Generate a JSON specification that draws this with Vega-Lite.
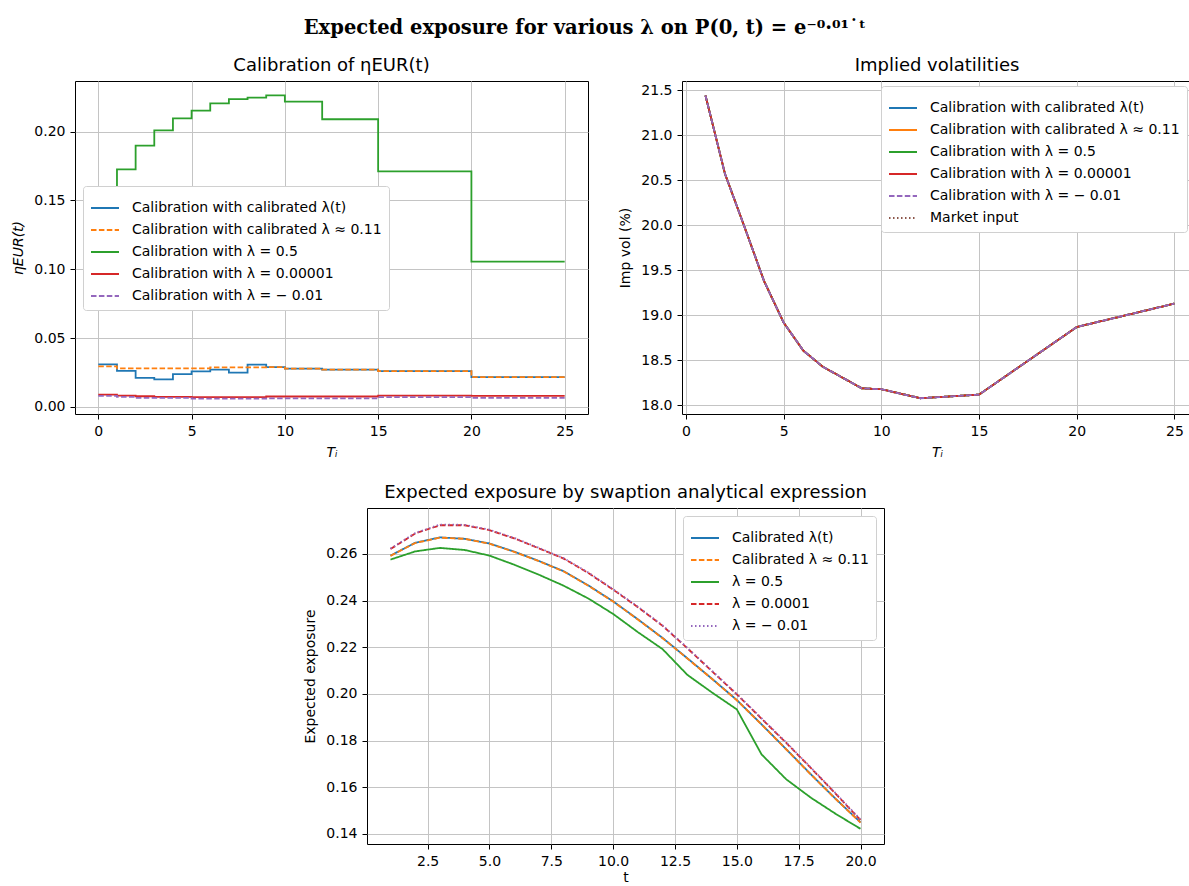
{
  "$schema": "https://vega.github.io/schema/vega-lite/v6.json",
  "padding": {"left": 11, "top": 18, "right": 0, "bottom": 0},
  "title": {"text": "Expected exposure for various λ on P(0, t) = e⁻⁰·⁰¹˙ᵗ", "font": "DejaVu Serif", "fontSize": 19.5, "fontWeight": "bold", "color": "#000", "anchor": "middle", "offset": 18, "dx": -17},
  "config": {
    "font": "DejaVu Sans",
    "view": {"stroke": "#000", "strokeWidth": 1},
    "axis": {"domain": false, "tickColor": "#000", "tickSize": 5, "tickWidth": 1, "labelFont": "DejaVu Sans", "labelFontSize": 14, "labelColor": "#000", "labelPadding": 5, "titleFont": "DejaVu Sans", "titleFontSize": 14, "titleFontWeight": "normal", "titleColor": "#000", "titlePadding": 7, "gridColor": "#c4c4c4", "gridWidth": 1, "labelFlush": false, "labelOverlap": false},
    "axisY": {"titlePadding": 8},
    "legend": {"labelFont": "DejaVu Sans", "labelFontSize": 14, "labelColor": "#000", "symbolType": "stroke", "symbolSize": 784, "symbolStrokeWidth": 2, "rowPadding": -5, "labelOffset": 12, "labelLimit": 500, "strokeColor": "#d0d0d0", "fillColor": "#ffffff", "padding": 7, "cornerRadius": 3, "title": null},
    "title": {"font": "DejaVu Sans", "fontSize": 18, "fontWeight": "normal", "color": "#000"}
  },
  "datasets": {
    "eta": [
      {"T":0,"s":"Calibration with calibrated λ(t)","v":0.0310},{"T":1,"s":"Calibration with calibrated λ(t)","v":0.0263},{"T":2,"s":"Calibration with calibrated λ(t)","v":0.0212},{"T":3,"s":"Calibration with calibrated λ(t)","v":0.0200},{"T":4,"s":"Calibration with calibrated λ(t)","v":0.0239},{"T":5,"s":"Calibration with calibrated λ(t)","v":0.0259},{"T":6,"s":"Calibration with calibrated λ(t)","v":0.0271},{"T":7,"s":"Calibration with calibrated λ(t)","v":0.0249},{"T":8,"s":"Calibration with calibrated λ(t)","v":0.0307},{"T":9,"s":"Calibration with calibrated λ(t)","v":0.0290},{"T":10,"s":"Calibration with calibrated λ(t)","v":0.0278},{"T":12,"s":"Calibration with calibrated λ(t)","v":0.0271},{"T":15,"s":"Calibration with calibrated λ(t)","v":0.0261},{"T":20,"s":"Calibration with calibrated λ(t)","v":0.0217},{"T":25,"s":"Calibration with calibrated λ(t)","v":0.0217},
      {"T":0,"s":"Calibration with calibrated λ ≈ 0.11","v":0.0295},{"T":1,"s":"Calibration with calibrated λ ≈ 0.11","v":0.0281},{"T":2,"s":"Calibration with calibrated λ ≈ 0.11","v":0.0281},{"T":3,"s":"Calibration with calibrated λ ≈ 0.11","v":0.0281},{"T":4,"s":"Calibration with calibrated λ ≈ 0.11","v":0.0281},{"T":5,"s":"Calibration with calibrated λ ≈ 0.11","v":0.0281},{"T":6,"s":"Calibration with calibrated λ ≈ 0.11","v":0.0288},{"T":7,"s":"Calibration with calibrated λ ≈ 0.11","v":0.0288},{"T":8,"s":"Calibration with calibrated λ ≈ 0.11","v":0.0288},{"T":9,"s":"Calibration with calibrated λ ≈ 0.11","v":0.0290},{"T":10,"s":"Calibration with calibrated λ ≈ 0.11","v":0.0278},{"T":12,"s":"Calibration with calibrated λ ≈ 0.11","v":0.0271},{"T":15,"s":"Calibration with calibrated λ ≈ 0.11","v":0.0261},{"T":20,"s":"Calibration with calibrated λ ≈ 0.11","v":0.0217},{"T":25,"s":"Calibration with calibrated λ ≈ 0.11","v":0.0217},
      {"T":0,"s":"Calibration with λ = 0.5","v":0.1400},{"T":1,"s":"Calibration with λ = 0.5","v":0.1726},{"T":2,"s":"Calibration with λ = 0.5","v":0.1898},{"T":3,"s":"Calibration with λ = 0.5","v":0.2010},{"T":4,"s":"Calibration with λ = 0.5","v":0.2097},{"T":5,"s":"Calibration with λ = 0.5","v":0.2153},{"T":6,"s":"Calibration with λ = 0.5","v":0.2206},{"T":7,"s":"Calibration with λ = 0.5","v":0.2237},{"T":8,"s":"Calibration with λ = 0.5","v":0.2247},{"T":9,"s":"Calibration with λ = 0.5","v":0.2264},{"T":10,"s":"Calibration with λ = 0.5","v":0.2218},{"T":12,"s":"Calibration with λ = 0.5","v":0.2090},{"T":15,"s":"Calibration with λ = 0.5","v":0.1712},{"T":20,"s":"Calibration with λ = 0.5","v":0.1056},{"T":25,"s":"Calibration with λ = 0.5","v":0.1056},
      {"T":0,"s":"Calibration with λ = 0.00001","v":0.0090},{"T":1,"s":"Calibration with λ = 0.00001","v":0.0083},{"T":2,"s":"Calibration with λ = 0.00001","v":0.0078},{"T":3,"s":"Calibration with λ = 0.00001","v":0.0073},{"T":4,"s":"Calibration with λ = 0.00001","v":0.0073},{"T":5,"s":"Calibration with λ = 0.00001","v":0.0071},{"T":6,"s":"Calibration with λ = 0.00001","v":0.0071},{"T":7,"s":"Calibration with λ = 0.00001","v":0.0071},{"T":8,"s":"Calibration with λ = 0.00001","v":0.0071},{"T":9,"s":"Calibration with λ = 0.00001","v":0.0076},{"T":10,"s":"Calibration with λ = 0.00001","v":0.0076},{"T":12,"s":"Calibration with λ = 0.00001","v":0.0076},{"T":15,"s":"Calibration with λ = 0.00001","v":0.0083},{"T":20,"s":"Calibration with λ = 0.00001","v":0.0080},{"T":25,"s":"Calibration with λ = 0.00001","v":0.0080},
      {"T":0,"s":"Calibration with  λ = − 0.01","v":0.0080},{"T":1,"s":"Calibration with  λ = − 0.01","v":0.0073},{"T":2,"s":"Calibration with  λ = − 0.01","v":0.0066},{"T":3,"s":"Calibration with  λ = − 0.01","v":0.0066},{"T":4,"s":"Calibration with  λ = − 0.01","v":0.0066},{"T":5,"s":"Calibration with  λ = − 0.01","v":0.0061},{"T":6,"s":"Calibration with  λ = − 0.01","v":0.0061},{"T":7,"s":"Calibration with  λ = − 0.01","v":0.0061},{"T":8,"s":"Calibration with  λ = − 0.01","v":0.0061},{"T":9,"s":"Calibration with  λ = − 0.01","v":0.0063},{"T":10,"s":"Calibration with  λ = − 0.01","v":0.0062},{"T":12,"s":"Calibration with  λ = − 0.01","v":0.0062},{"T":15,"s":"Calibration with  λ = − 0.01","v":0.0071},{"T":20,"s":"Calibration with  λ = − 0.01","v":0.0066},{"T":25,"s":"Calibration with  λ = − 0.01","v":0.0066}
    ],
    "vol": [
      {"T":1,"s":"Market input","v":21.44},{"T":2,"s":"Market input","v":20.57},{"T":3,"s":"Market input","v":19.98},{"T":4,"s":"Market input","v":19.38},{"T":5,"s":"Market input","v":18.92},{"T":6,"s":"Market input","v":18.61},{"T":7,"s":"Market input","v":18.43},{"T":9,"s":"Market input","v":18.19},{"T":10,"s":"Market input","v":18.18},{"T":12,"s":"Market input","v":18.08},{"T":15,"s":"Market input","v":18.12},{"T":20,"s":"Market input","v":18.87},{"T":25,"s":"Market input","v":19.13},
      {"T":1,"s":"Calibration with calibrated λ(t)","v":21.44},{"T":2,"s":"Calibration with calibrated λ(t)","v":20.57},{"T":3,"s":"Calibration with calibrated λ(t)","v":19.98},{"T":4,"s":"Calibration with calibrated λ(t)","v":19.38},{"T":5,"s":"Calibration with calibrated λ(t)","v":18.92},{"T":6,"s":"Calibration with calibrated λ(t)","v":18.61},{"T":7,"s":"Calibration with calibrated λ(t)","v":18.43},{"T":9,"s":"Calibration with calibrated λ(t)","v":18.19},{"T":10,"s":"Calibration with calibrated λ(t)","v":18.18},{"T":12,"s":"Calibration with calibrated λ(t)","v":18.08},{"T":15,"s":"Calibration with calibrated λ(t)","v":18.12},{"T":20,"s":"Calibration with calibrated λ(t)","v":18.87},{"T":25,"s":"Calibration with calibrated λ(t)","v":19.13},
      {"T":1,"s":"Calibration with calibrated λ ≈ 0.11","v":21.44},{"T":2,"s":"Calibration with calibrated λ ≈ 0.11","v":20.57},{"T":3,"s":"Calibration with calibrated λ ≈ 0.11","v":19.98},{"T":4,"s":"Calibration with calibrated λ ≈ 0.11","v":19.38},{"T":5,"s":"Calibration with calibrated λ ≈ 0.11","v":18.92},{"T":6,"s":"Calibration with calibrated λ ≈ 0.11","v":18.61},{"T":7,"s":"Calibration with calibrated λ ≈ 0.11","v":18.43},{"T":9,"s":"Calibration with calibrated λ ≈ 0.11","v":18.19},{"T":10,"s":"Calibration with calibrated λ ≈ 0.11","v":18.18},{"T":12,"s":"Calibration with calibrated λ ≈ 0.11","v":18.08},{"T":15,"s":"Calibration with calibrated λ ≈ 0.11","v":18.12},{"T":20,"s":"Calibration with calibrated λ ≈ 0.11","v":18.87},{"T":25,"s":"Calibration with calibrated λ ≈ 0.11","v":19.13},
      {"T":1,"s":"Calibration with  λ = 0.5","v":21.44},{"T":2,"s":"Calibration with  λ = 0.5","v":20.57},{"T":3,"s":"Calibration with  λ = 0.5","v":19.98},{"T":4,"s":"Calibration with  λ = 0.5","v":19.38},{"T":5,"s":"Calibration with  λ = 0.5","v":18.92},{"T":6,"s":"Calibration with  λ = 0.5","v":18.61},{"T":7,"s":"Calibration with  λ = 0.5","v":18.43},{"T":9,"s":"Calibration with  λ = 0.5","v":18.19},{"T":10,"s":"Calibration with  λ = 0.5","v":18.18},{"T":12,"s":"Calibration with  λ = 0.5","v":18.08},{"T":15,"s":"Calibration with  λ = 0.5","v":18.12},{"T":20,"s":"Calibration with  λ = 0.5","v":18.87},{"T":25,"s":"Calibration with  λ = 0.5","v":19.13},
      {"T":1,"s":"Calibration with  λ = 0.00001","v":21.44},{"T":2,"s":"Calibration with  λ = 0.00001","v":20.57},{"T":3,"s":"Calibration with  λ = 0.00001","v":19.98},{"T":4,"s":"Calibration with  λ = 0.00001","v":19.38},{"T":5,"s":"Calibration with  λ = 0.00001","v":18.92},{"T":6,"s":"Calibration with  λ = 0.00001","v":18.61},{"T":7,"s":"Calibration with  λ = 0.00001","v":18.43},{"T":9,"s":"Calibration with  λ = 0.00001","v":18.19},{"T":10,"s":"Calibration with  λ = 0.00001","v":18.18},{"T":12,"s":"Calibration with  λ = 0.00001","v":18.08},{"T":15,"s":"Calibration with  λ = 0.00001","v":18.12},{"T":20,"s":"Calibration with  λ = 0.00001","v":18.87},{"T":25,"s":"Calibration with  λ = 0.00001","v":19.13},
      {"T":1,"s":"Calibration with λ =  − 0.01","v":21.44},{"T":2,"s":"Calibration with λ =  − 0.01","v":20.57},{"T":3,"s":"Calibration with λ =  − 0.01","v":19.98},{"T":4,"s":"Calibration with λ =  − 0.01","v":19.38},{"T":5,"s":"Calibration with λ =  − 0.01","v":18.92},{"T":6,"s":"Calibration with λ =  − 0.01","v":18.61},{"T":7,"s":"Calibration with λ =  − 0.01","v":18.43},{"T":9,"s":"Calibration with λ =  − 0.01","v":18.19},{"T":10,"s":"Calibration with λ =  − 0.01","v":18.18},{"T":12,"s":"Calibration with λ =  − 0.01","v":18.08},{"T":15,"s":"Calibration with λ =  − 0.01","v":18.12},{"T":20,"s":"Calibration with λ =  − 0.01","v":18.87},{"T":25,"s":"Calibration with λ =  − 0.01","v":19.13}
    ],
    "ee": [
      {"t":1,"s":"Calibrated λ(t)","v":0.2593},{"t":2,"s":"Calibrated λ(t)","v":0.2648},{"t":3,"s":"Calibrated λ(t)","v":0.2671},{"t":4,"s":"Calibrated λ(t)","v":0.2665},{"t":5,"s":"Calibrated λ(t)","v":0.2645},{"t":6,"s":"Calibrated λ(t)","v":0.2610},{"t":7,"s":"Calibrated λ(t)","v":0.2570},{"t":8,"s":"Calibrated λ(t)","v":0.2526},{"t":9,"s":"Calibrated λ(t)","v":0.2465},{"t":10,"s":"Calibrated λ(t)","v":0.2397},{"t":11,"s":"Calibrated λ(t)","v":0.2320},{"t":12,"s":"Calibrated λ(t)","v":0.2240},{"t":13,"s":"Calibrated λ(t)","v":0.2153},{"t":14,"s":"Calibrated λ(t)","v":0.2065},{"t":15,"s":"Calibrated λ(t)","v":0.1974},{"t":16,"s":"Calibrated λ(t)","v":0.1870},{"t":17,"s":"Calibrated λ(t)","v":0.1763},{"t":18,"s":"Calibrated λ(t)","v":0.1655},{"t":19,"s":"Calibrated λ(t)","v":0.1550},{"t":20,"s":"Calibrated λ(t)","v":0.1450},
      {"t":1,"s":"Calibrated λ ≈ 0.11","v":0.2592},{"t":2,"s":"Calibrated λ ≈ 0.11","v":0.2647},{"t":3,"s":"Calibrated λ ≈ 0.11","v":0.2670},{"t":4,"s":"Calibrated λ ≈ 0.11","v":0.2665},{"t":5,"s":"Calibrated λ ≈ 0.11","v":0.2644},{"t":6,"s":"Calibrated λ ≈ 0.11","v":0.2609},{"t":7,"s":"Calibrated λ ≈ 0.11","v":0.2569},{"t":8,"s":"Calibrated λ ≈ 0.11","v":0.2525},{"t":9,"s":"Calibrated λ ≈ 0.11","v":0.2464},{"t":10,"s":"Calibrated λ ≈ 0.11","v":0.2396},{"t":11,"s":"Calibrated λ ≈ 0.11","v":0.2319},{"t":12,"s":"Calibrated λ ≈ 0.11","v":0.2239},{"t":13,"s":"Calibrated λ ≈ 0.11","v":0.2152},{"t":14,"s":"Calibrated λ ≈ 0.11","v":0.2064},{"t":15,"s":"Calibrated λ ≈ 0.11","v":0.1973},{"t":16,"s":"Calibrated λ ≈ 0.11","v":0.1869},{"t":17,"s":"Calibrated λ ≈ 0.11","v":0.1762},{"t":18,"s":"Calibrated λ ≈ 0.11","v":0.1654},{"t":19,"s":"Calibrated λ ≈ 0.11","v":0.1549},{"t":20,"s":"Calibrated λ ≈ 0.11","v":0.1449},
      {"t":1,"s":"λ = 0.5","v":0.2576},{"t":2,"s":"λ = 0.5","v":0.2611},{"t":3,"s":"λ = 0.5","v":0.2626},{"t":4,"s":"λ = 0.5","v":0.2617},{"t":5,"s":"λ = 0.5","v":0.2593},{"t":6,"s":"λ = 0.5","v":0.2554},{"t":7,"s":"λ = 0.5","v":0.2511},{"t":8,"s":"λ = 0.5","v":0.2464},{"t":9,"s":"λ = 0.5","v":0.2409},{"t":10,"s":"λ = 0.5","v":0.2343},{"t":11,"s":"λ = 0.5","v":0.2265},{"t":12,"s":"λ = 0.5","v":0.2192},{"t":13,"s":"λ = 0.5","v":0.2082},{"t":14,"s":"λ = 0.5","v":0.2006},{"t":15,"s":"λ = 0.5","v":0.1934},{"t":16,"s":"λ = 0.5","v":0.1741},{"t":17,"s":"λ = 0.5","v":0.1634},{"t":18,"s":"λ = 0.5","v":0.1555},{"t":19,"s":"λ = 0.5","v":0.1486},{"t":20,"s":"λ = 0.5","v":0.1422},
      {"t":1,"s":"λ = 0.0001","v":0.2621},{"t":2,"s":"λ = 0.0001","v":0.2688},{"t":3,"s":"λ = 0.0001","v":0.2723},{"t":4,"s":"λ = 0.0001","v":0.2723},{"t":5,"s":"λ = 0.0001","v":0.2702},{"t":6,"s":"λ = 0.0001","v":0.2667},{"t":7,"s":"λ = 0.0001","v":0.2624},{"t":8,"s":"λ = 0.0001","v":0.2580},{"t":9,"s":"λ = 0.0001","v":0.2518},{"t":10,"s":"λ = 0.0001","v":0.2447},{"t":11,"s":"λ = 0.0001","v":0.2372},{"t":12,"s":"λ = 0.0001","v":0.2292},{"t":13,"s":"λ = 0.0001","v":0.2196},{"t":14,"s":"λ = 0.0001","v":0.2097},{"t":15,"s":"λ = 0.0001","v":0.1998},{"t":16,"s":"λ = 0.0001","v":0.1894},{"t":17,"s":"λ = 0.0001","v":0.1790},{"t":18,"s":"λ = 0.0001","v":0.1682},{"t":19,"s":"λ = 0.0001","v":0.1572},{"t":20,"s":"λ = 0.0001","v":0.1460},
      {"t":1,"s":"λ = − 0.01","v":0.2623},{"t":2,"s":"λ = − 0.01","v":0.2690},{"t":3,"s":"λ = − 0.01","v":0.2726},{"t":4,"s":"λ = − 0.01","v":0.2725},{"t":5,"s":"λ = − 0.01","v":0.2704},{"t":6,"s":"λ = − 0.01","v":0.2669},{"t":7,"s":"λ = − 0.01","v":0.2626},{"t":8,"s":"λ = − 0.01","v":0.2582},{"t":9,"s":"λ = − 0.01","v":0.2520},{"t":10,"s":"λ = − 0.01","v":0.2449},{"t":11,"s":"λ = − 0.01","v":0.2374},{"t":12,"s":"λ = − 0.01","v":0.2294},{"t":13,"s":"λ = − 0.01","v":0.2198},{"t":14,"s":"λ = − 0.01","v":0.2099},{"t":15,"s":"λ = − 0.01","v":0.2000},{"t":16,"s":"λ = − 0.01","v":0.1896},{"t":17,"s":"λ = − 0.01","v":0.1792},{"t":18,"s":"λ = − 0.01","v":0.1684},{"t":19,"s":"λ = − 0.01","v":0.1574},{"t":20,"s":"λ = − 0.01","v":0.1462}
    ]
  },
  "vconcat": [
    {
      "hconcat": [
        {
          "width": 513, "height": 333,
          "title": {"text": "Calibration of ηEUR(t)", "offset": 6},
          "data": {"name": "eta"},
          "mark": {"type": "line", "interpolate": "step-after", "strokeWidth": 1.8},
          "encoding": {
            "x": {"field": "T", "type": "quantitative", "scale": {"domain": [-1.25, 26.25], "nice": false, "zero": false}, "axis": {"values": [0, 5, 10, 15, 20, 25], "title": "Tᵢ", "titleFontStyle": "italic"}},
            "y": {"field": "v", "type": "quantitative", "scale": {"domain": [-0.0051, 0.2368], "nice": false, "zero": false}, "axis": {"values": [0, 0.05, 0.1, 0.15, 0.2], "format": ".2f", "title": "ηEUR(t)", "titleFontStyle": "italic"}},
            "color": {"field": "s", "type": "nominal", "sort": null,
              "scale": {"domain": ["Calibration with calibrated λ(t)", "Calibration with calibrated λ ≈ 0.11", "Calibration with λ = 0.5", "Calibration with λ = 0.00001", "Calibration with  λ = − 0.01"], "range": ["#1f77b4", "#ff7f0e", "#2ca02c", "#d62728", "#9467bd"]},
              "legend": {"orient": "none", "legendX": 8, "legendY": 105}},
            "strokeDash": {"field": "s", "type": "nominal", "sort": null,
              "scale": {"domain": ["Calibration with calibrated λ(t)", "Calibration with calibrated λ ≈ 0.11", "Calibration with λ = 0.5", "Calibration with λ = 0.00001", "Calibration with  λ = − 0.01"], "range": [[1, 0], [5.5, 2.4], [1, 0], [1, 0], [5.5, 2.4]]},
              "legend": {"orient": "none", "legendX": 8, "legendY": 105}}
          }
        },
        {
          "width": 510, "height": 333,
          "title": {"text": "Implied volatilities", "offset": 6},
          "data": {"name": "vol"},
          "mark": {"type": "line", "strokeWidth": 1.8},
          "encoding": {
            "x": {"field": "T", "type": "quantitative", "scale": {"domain": [-0.2, 25.9], "nice": false, "zero": false}, "axis": {"values": [0, 5, 10, 15, 20, 25], "title": "Tᵢ", "titleFontStyle": "italic"}},
            "y": {"field": "v", "type": "quantitative", "scale": {"domain": [17.905, 21.6], "nice": false, "zero": false}, "axis": {"values": [18, 18.5, 19, 19.5, 20, 20.5, 21, 21.5], "format": ".1f", "title": "Imp vol (%)"}},
            "color": {"field": "s", "type": "nominal", "sort": null,
              "scale": {"domain": ["Calibration with calibrated λ(t)", "Calibration with calibrated λ ≈ 0.11", "Calibration with  λ = 0.5", "Calibration with  λ = 0.00001", "Calibration with λ =  − 0.01", "Market input"], "range": ["#1f77b4", "#ff7f0e", "#2ca02c", "#d62728", "#9467bd", "#8c564b"]},
              "legend": {"orient": "top-right", "offset": 5}},
            "strokeDash": {"field": "s", "type": "nominal", "sort": null,
              "scale": {"domain": ["Calibration with calibrated λ(t)", "Calibration with calibrated λ ≈ 0.11", "Calibration with  λ = 0.5", "Calibration with  λ = 0.00001", "Calibration with λ =  − 0.01", "Market input"], "range": [[1, 0], [1, 0], [1, 0], [1, 0], [5.5, 2.4], [1.5, 2.5]]},
              "legend": {"orient": "top-right", "offset": 5}}
          }
        }
      ],
      "spacing": 29,
      "resolve": {"scale": {"color": "independent", "strokeDash": "independent"}, "legend": {"color": "independent", "strokeDash": "independent"}}
    },
    {
      "hconcat": [
        {
          "width": 228, "height": 1,
          "view": {"stroke": null},
          "data": {"values": []},
          "mark": {"type": "point", "opacity": 0}
        },
        {
          "width": 517, "height": 336,
          "title": {"text": "Expected exposure by swaption analytical expression", "offset": 6},
          "data": {"name": "ee"},
          "mark": {"type": "line", "strokeWidth": 1.8},
          "encoding": {
            "x": {"field": "t", "type": "quantitative", "scale": {"domain": [0.05, 20.95], "nice": false, "zero": false}, "axis": {"values": [2.5, 5, 7.5, 10, 12.5, 15, 17.5, 20], "format": ".1f", "title": "t", "titlePadding": 2}},
            "y": {"field": "v", "type": "quantitative", "scale": {"domain": [0.1357, 0.2797], "nice": false, "zero": false}, "axis": {"values": [0.14, 0.16, 0.18, 0.2, 0.22, 0.24, 0.26], "format": ".2f", "title": "Expected exposure"}},
            "color": {"field": "s", "type": "nominal", "sort": null,
              "scale": {"domain": ["Calibrated λ(t)", "Calibrated λ ≈ 0.11", "λ = 0.5", "λ = 0.0001", "λ = − 0.01"], "range": ["#1f77b4", "#ff7f0e", "#2ca02c", "#d62728", "#9467bd"]},
              "legend": {"orient": "top-right", "offset": 8}},
            "strokeDash": {"field": "s", "type": "nominal", "sort": null,
              "scale": {"domain": ["Calibrated λ(t)", "Calibrated λ ≈ 0.11", "λ = 0.5", "λ = 0.0001", "λ = − 0.01"], "range": [[1, 0], [5.5, 2.4], [1, 0], [5.5, 2.4], [1.5, 2.5]]},
              "legend": {"orient": "top-right", "offset": 8}}
          }
        }
      ],
      "spacing": 0,
      "resolve": {"scale": {"color": "independent", "strokeDash": "independent"}, "legend": {"color": "independent", "strokeDash": "independent"}}
    }
  ],
  "spacing": 23,
  "resolve": {"scale": {"color": "independent", "strokeDash": "independent"}, "legend": {"color": "independent", "strokeDash": "independent"}}
}
